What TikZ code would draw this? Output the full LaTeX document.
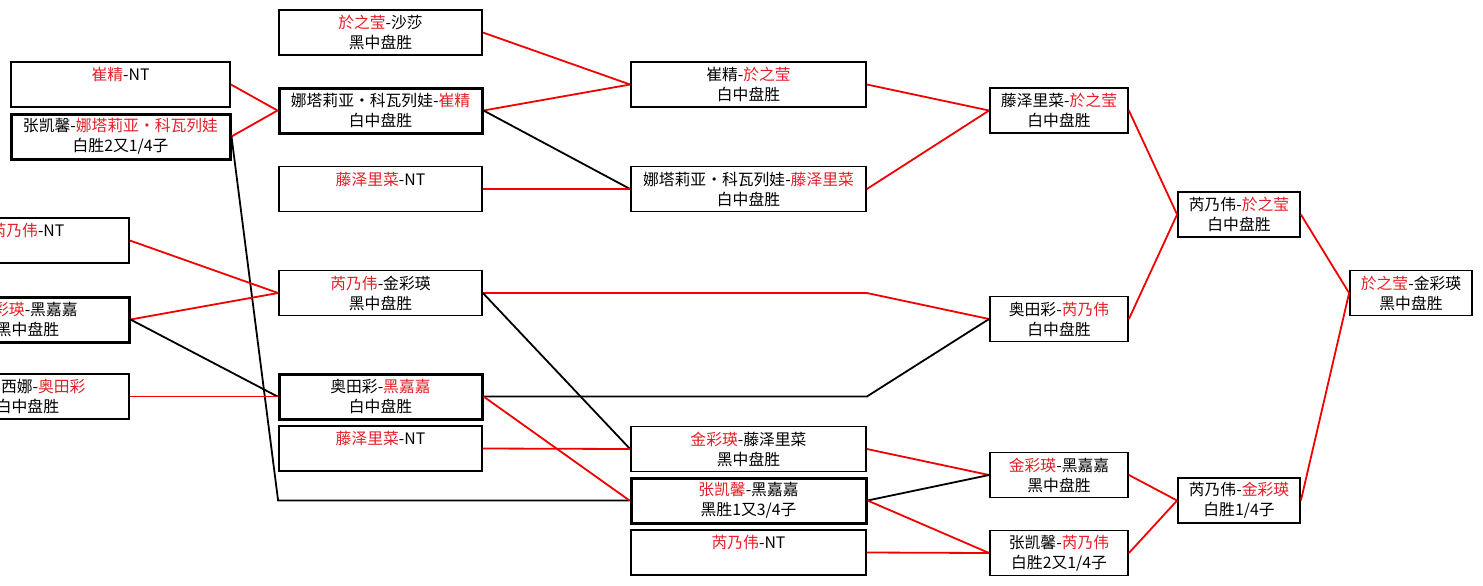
\documentclass[tikz,border=0pt]{standalone}
\usepackage{fontspec}
\usepackage{xcolor}
\usepackage{tikz}
\newfontfamily\cjk{Noto Sans CJK SC}
\definecolor{txtred}{RGB}{228,30,38}
\definecolor{linered}{RGB}{240,0,0}
\newcommand{\rd}[1]{\textcolor{txtred}{#1}}
\newcommand{\blank}{\phantom{白中盘胜}}

\begin{document}
\begin{tikzpicture}[x=0.5pt, y=-0.5pt,
  game/.style={draw, line width=0.9pt, minimum height=22.5pt, inner sep=0pt,
    align=center, font=\cjk\fontsize{7.9}{10}\selectfont},
  heavy/.style={line width=1.5pt},
  colA/.style={game, minimum width=109.5pt},
  colB/.style={game, minimum width=101.5pt},
  colC/.style={game, minimum width=117.5pt},
  colD/.style={game, minimum width=69pt},
  colE/.style={game, minimum width=61pt},
  win/.style={draw=linered, line width=0.9pt},
  lose/.style={draw=black, line width=0.9pt}]
 \useasboundingbox (0,0) rectangle (1483,585);
 \clip (0,0) rectangle (1483,585);

 % first round
 \node [colA] (a1) at (120.5, 84.5) {\rd{崔精}-NT\\\blank};
 \node [colA, heavy] (a2) at (120.5,136.5) {张凯馨-\rd{娜塔莉亚・科瓦列娃}\\白胜2又1/4子};
 \node [colB] (a3) at (27.5,240.5) {\rd{芮乃伟}-NT\\\blank};
 \node [colB, heavy] (a4) at (27.5,319.5) {\rd{金彩瑛}-黑嘉嘉\\黑中盘胜};
 \node [colB] (a5) at (27.5,396.5) {\phantom{西西}西娜-\rd{奥田彩}\\白中盘胜};

 % second round
 \node [colB] (b1) at (380.5, 32.5) {\rd{於之莹}-沙莎\\黑中盘胜};
 \node [colB, heavy] (b2) at (380.5,110.5) {娜塔莉亚・科瓦列娃-\rd{崔精}\\白中盘胜};
 \node [colB] (b3) at (380.5,189) {\rd{藤泽里菜}-NT\\\blank};
 \node [colB] (b4) at (380.5,293) {\rd{芮乃伟}-金彩瑛\\黑中盘胜};
 \node [colB, heavy] (b5) at (380.5,396.5) {奥田彩-\rd{黑嘉嘉}\\白中盘胜};
 \node [colB] (b6) at (380.5,448.5) {\rd{藤泽里菜}-NT\\\blank};

 % third round
 \node [colC] (c1) at (748.5, 84.5) {崔精-\rd{於之莹}\\白中盘胜};
 \node [colC] (c2) at (748.5,189) {娜塔莉亚・科瓦列娃-\rd{藤泽里菜}\\白中盘胜};
 \node [colC] (c3) at (748.5,449) {\rd{金彩瑛}-藤泽里菜\\黑中盘胜};
 \node [colC, heavy] (c4) at (748.5,500.5) {\rd{张凯馨}-黑嘉嘉\\黑胜1又3/4子};
 \node [colC] (c5) at (748.5,552.5) {\rd{芮乃伟}-NT\\\blank};

 % fourth round
 \node [colD] (d1) at (1059,110.5) {藤泽里菜-\rd{於之莹}\\白中盘胜};
 \node [colD] (d2) at (1059,319) {奥田彩-\rd{芮乃伟}\\白中盘胜};
 \node [colD] (d3) at (1059,475) {\rd{金彩瑛}-黑嘉嘉\\黑中盘胜};
 \node [colD] (d4) at (1059,553) {张凯馨-\rd{芮乃伟}\\白胜2又1/4子};

 % semi-finals and final
 \node [colE] (e1) at (1239,214.5) {芮乃伟-\rd{於之莹}\\白中盘胜};
 \node [colE] (e2) at (1239,500.5) {芮乃伟-\rd{金彩瑛}\\白胜1/4子};
 \node [colE] (f1) at (1411,293) {\rd{於之莹}-金彩瑛\\黑中盘胜};

 \draw [win] (a1.east) -- (b2.west);
 \draw [win] (a2.east) -- (b2.west);
 \draw [lose] (a2.east) -- (b1.west |- c4.west) -- (c4.west);
 \draw [win] (a3.east) -- (b4.west);
 \draw [win] (a4.east) -- (b4.west);
 \draw [lose] (a4.east) -- (b5.west);
 \draw [win] (a5.east) -- (b5.west);

 \draw [win] (b1.east) -- (c1.west);
 \draw [win] (b2.east) -- (c1.west);
 \draw [lose] (b2.east) -- (c2.west);
 \draw [win] (b3.east) -- (c2.west);
 \draw [win] (b4.east) -- (c1.east |- b4.east) -- (d2.west);
 \draw [lose] (b4.east) -- (c3.west);
 \draw [lose] (b5.east) -- (c1.east |- b5.east) -- (d2.west);
 \draw [win] (b5.east) -- (c4.west);
 \draw [win] (b6.east) -- (c3.west);

 \draw [win] (c1.east) -- (d1.west);
 \draw [win] (c2.east) -- (d1.west);
 \draw [win] (c3.east) -- (d3.west);
 \draw [lose] (c4.east) -- (d3.west);
 \draw [win] (c4.east) -- (d4.west);
 \draw [win] (c5.east) -- (d4.west);

 \draw [win] (d1.east) -- (e1.west);
 \draw [win] (d2.east) -- (e1.west);
 \draw [win] (d3.east) -- (e2.west);
 \draw [win] (d4.east) -- (e2.west);
 \draw [win] (e1.east) -- (f1.west);
 \draw [win] (e2.east) -- (f1.west);
\end{tikzpicture}
\end{document}
